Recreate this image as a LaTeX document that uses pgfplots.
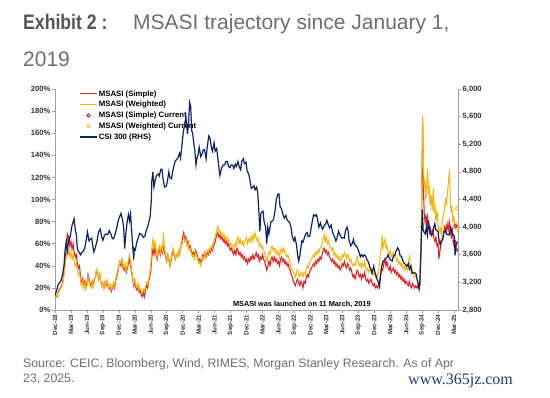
\documentclass[border=0pt]{standalone}
\usepackage{pgfplots}
\pgfplotsset{compat=1.18}
\usepackage{pgfplotstable}
\usepackage{fontspec}
\setmainfont{Liberation Sans}
\newfontfamily\wmfont{Liberation Serif}
\definecolor{msred}{HTML}{E3201F}
\definecolor{msyel}{HTML}{F6B50A}
\definecolor{msnavy}{HTML}{0D2466}
\definecolor{msdred}{HTML}{B8232A}
\definecolor{axgray}{HTML}{A0A0A0}
\definecolor{tgray}{HTML}{555555}
\definecolor{tlab}{HTML}{333333}
\definecolor{wmblue}{HTML}{1C3E72}

\pgfplotstableread{
x y
0.0 10
0.2 13
0.4 12
0.6 16
0.8 18
1.0 20
1.2 22
1.4 24
1.6 30
1.8 40
2.0 50
2.2 62
2.35 70
2.5 60
2.6 68
2.8 58
3.0 62
3.2 55
3.4 60
3.6 52
3.8 48
4.0 50
4.2 42
4.4 38
4.6 40
4.8 30
5.0 24
5.2 28
5.4 22
5.6 26
5.8 20
6.0 24
6.2 32
6.4 28
6.6 24
6.8 21
7.0 26
7.2 22
7.4 28
7.6 30
7.8 36
8.0 33
8.2 28
8.4 32
8.6 26
8.8 22
9.0 24
9.2 20
9.4 25
9.6 22
9.8 26
10.0 21
10.2 19
10.4 22
10.6 17
10.8 20
11.0 24
11.2 20
11.4 26
11.6 30
11.8 34
12.0 40
12.2 44
12.4 40
12.6 45
12.8 38
13.0 36
13.2 40
13.4 34
13.6 38
13.8 42
14.0 46
14.2 40
14.4 34
14.6 28
14.8 22
15.0 26
15.2 20
15.4 18
15.6 22
15.8 16
16.0 18
16.2 14
16.4 12
16.6 16
16.8 12
17.0 18
17.2 22
17.4 20
17.6 26
17.8 30
18.0 35
18.2 48
18.4 55
18.6 50
18.8 58
19.0 50
19.2 46
19.4 52
19.6 55
19.8 50
20.0 56
20.2 52
20.4 58
20.6 52
20.8 48
21.0 44
21.2 50
21.4 46
21.6 40
21.8 44
22.0 50
22.2 54
22.4 50
22.6 46
22.8 50
23.0 48
23.2 52
23.4 50
23.6 56
23.8 60
24.0 66
24.2 70
24.4 64
24.6 66
24.8 60
25.0 62
25.2 56
25.4 58
25.6 54
25.8 50
26.0 52
26.2 48
26.4 54
26.6 52
26.8 48
27.0 44
27.2 46
27.4 42
27.6 46
27.8 50
28.0 48
28.2 52
28.4 48
28.6 52
28.8 50
29.0 54
29.2 52
29.4 56
29.6 54
29.8 58
30.0 60
30.2 64
30.4 68
30.6 70
30.8 66
31.0 68
31.2 64
31.4 66
31.6 62
31.8 64
32.0 60
32.2 62
32.4 58
32.6 60
32.8 56
33.0 54
33.2 56
33.4 52
33.6 50
33.8 54
34.0 50
34.2 56
34.4 54
34.6 50
34.8 52
35.0 48
35.2 50
35.4 46
35.6 48
35.8 44
36.0 46
36.2 42
36.4 46
36.6 44
36.8 48
37.0 46
37.2 50
37.4 46
37.6 48
37.8 52
38.0 48
38.2 50
38.4 44
38.6 48
38.8 46
39.0 50
39.2 46
39.4 44
39.6 40
39.8 36
40.0 40
40.2 44
40.4 40
40.6 46
40.8 48
41.0 44
41.2 48
41.4 44
41.6 46
41.8 42
42.0 44
42.2 40
42.4 46
42.6 48
42.8 44
43.0 46
43.2 42
43.4 44
43.6 40
43.8 42
44.0 38
44.2 36
44.4 32
44.6 30
44.8 26
45.0 24
45.2 22
45.4 26
45.6 28
45.8 24
46.0 22
46.2 26
46.4 24
46.6 20
46.8 26
47.0 24
47.2 28
47.4 32
47.6 30
47.8 34
48.0 36
48.2 38
48.4 40
48.6 42
48.8 40
49.0 44
49.2 42
49.4 46
49.6 44
49.8 48
50.0 46
50.2 50
50.4 54
50.6 56
50.8 52
51.0 54
51.2 50
51.4 52
51.6 48
51.8 46
52.0 44
52.2 46
52.4 42
52.6 44
52.8 40
53.0 42
53.2 38
53.4 40
53.6 36
53.8 38
54.0 42
54.2 40
54.4 44
54.6 40
54.8 38
55.0 42
55.2 40
55.4 36
55.6 38
55.8 34
56.0 30
56.2 32
56.4 28
56.6 32
56.8 36
57.0 34
57.2 30
57.4 32
57.6 28
57.8 32
58.0 30
58.2 34
58.4 28
58.6 26
58.8 28
59.0 24
59.2 26
59.4 28
59.6 24
59.8 22
60.0 24
60.2 20
60.4 22
60.6 20
60.8 22
61.0 26
61.2 32
61.4 38
61.6 36
61.8 42
62.0 46
62.2 40
62.4 44
62.6 38
62.8 36
63.0 40
63.2 34
63.4 36
63.6 38
63.8 34
64.0 36
64.2 32
64.4 34
64.6 30
64.8 32
65.0 28
65.2 30
65.4 26
65.6 28
65.8 24
66.0 26
66.2 24
66.4 22
66.6 26
66.8 22
67.0 20
67.2 24
67.4 22
67.6 20
67.8 22
68.0 20
68.2 22
68.4 19
68.6 22
68.85 60
69.1 174
69.25 110
69.4 88
69.55 80
69.7 86
69.85 76
70.0 84
70.2 76
70.4 70
70.6 74
70.8 68
71.0 72
71.2 66
71.4 62
71.6 66
71.8 58
72.0 60
72.15 46
72.3 52
72.5 58
72.7 62
72.9 66
73.1 72
73.3 76
73.5 70
73.7 78
73.9 72
74.1 80
74.3 70
74.5 66
74.7 72
74.9 60
75.1 56
75.3 52
75.5 56
75.75 53
}\simpletab

\pgfplotstableread{
x y
0.0 10
0.2 12
0.4 13
0.6 15
0.8 17
1.0 19
1.2 21
1.4 23
1.6 28
1.8 36
2.0 44
2.2 52
2.35 58
2.5 50
2.6 56
2.8 48
3.0 52
3.2 46
3.4 50
3.6 44
3.8 40
4.0 42
4.2 36
4.4 32
4.6 34
4.8 26
5.0 22
5.2 26
5.4 20
5.6 24
5.8 19
6.0 22
6.2 30
6.4 26
6.6 22
6.8 20
7.0 25
7.2 21
7.4 27
7.6 30
7.8 37
8.0 34
8.2 28
8.4 33
8.6 26
8.8 21
9.0 24
9.2 20
9.4 26
9.6 23
9.8 27
10.0 22
10.2 20
10.4 23
10.6 19
10.8 21
11.0 25
11.2 22
11.4 28
11.6 32
11.8 36
12.0 40
12.2 44
12.4 42
12.6 46
12.8 40
13.0 38
13.2 42
13.4 36
13.6 40
13.8 46
14.0 50
14.2 44
14.4 36
14.6 30
14.8 24
15.0 28
15.2 22
15.4 20
15.6 24
15.8 18
16.0 20
16.2 17
16.4 16
16.6 19
16.8 17
17.0 21
17.2 25
17.4 23
17.6 28
17.8 33
18.0 40
18.2 56
18.4 64
18.6 56
18.8 62
19.0 54
19.2 48
19.4 54
19.6 58
19.8 52
20.0 58
20.2 54
20.4 70
20.5 60
20.6 54
20.8 50
21.0 44
21.2 50
21.4 46
21.6 40
21.8 46
22.0 52
22.2 56
22.4 50
22.6 46
22.8 50
23.0 48
23.2 54
23.4 50
23.6 56
23.8 58
24.0 62
24.2 66
24.4 62
24.6 64
24.8 58
25.0 60
25.2 54
25.4 56
25.6 52
25.8 48
26.0 50
26.2 46
26.4 52
26.6 50
26.8 46
27.0 42
27.2 44
27.4 40
27.6 44
27.8 48
28.0 46
28.2 52
28.4 50
28.6 54
28.8 52
29.0 56
29.2 54
29.4 58
29.6 56
29.8 62
30.0 64
30.2 68
30.4 72
30.6 76
30.8 70
31.0 72
31.2 68
31.4 70
31.6 66
31.8 68
32.0 64
32.2 66
32.4 62
32.6 64
32.8 60
33.0 58
33.2 60
33.4 58
33.6 56
33.8 60
34.0 58
34.2 64
34.4 66
34.6 60
34.8 64
35.0 60
35.2 62
35.4 58
35.6 60
35.8 64
36.0 66
36.2 60
36.4 64
36.6 62
36.8 66
37.0 62
37.2 68
37.4 64
37.6 70
37.8 66
38.0 62
38.2 64
38.4 58
38.6 60
38.8 56
39.0 58
39.2 54
39.4 52
39.6 48
39.8 44
40.0 48
40.2 52
40.4 50
40.6 56
40.8 58
41.0 54
41.2 56
41.4 52
41.6 54
41.8 50
42.0 52
42.2 48
42.4 54
42.6 56
42.8 52
43.0 56
43.2 52
43.4 50
43.6 48
43.8 50
44.0 46
44.2 42
44.4 38
44.6 36
44.8 34
45.0 32
45.2 30
45.4 34
45.6 36
45.8 32
46.0 30
46.2 34
46.4 32
46.6 30
46.8 34
47.0 32
47.2 36
47.4 40
47.6 38
47.8 42
48.0 44
48.2 46
48.4 48
48.6 50
48.8 48
49.0 52
49.2 50
49.4 54
49.6 52
49.8 56
50.0 56
50.2 60
50.4 64
50.6 68
50.8 62
51.0 66
51.2 60
51.4 62
51.6 58
51.8 56
52.0 54
52.2 56
52.4 50
52.6 52
52.8 48
53.0 50
53.2 46
53.4 48
53.6 44
53.8 46
54.0 50
54.2 48
54.4 52
54.6 50
54.8 46
55.0 50
55.2 48
55.4 44
55.6 46
55.8 42
56.0 40
56.2 42
56.4 40
56.6 44
56.8 48
57.0 44
57.2 40
57.4 42
57.6 38
57.8 42
58.0 40
58.2 44
58.4 38
58.6 36
58.8 38
59.0 34
59.2 36
59.4 38
59.6 34
59.8 32
60.0 34
60.2 30
60.4 32
60.6 30
60.8 34
61.0 42
61.2 52
61.4 60
61.5 68
61.6 56
61.8 60
62.0 64
62.2 56
62.4 58
62.6 52
62.8 50
63.0 54
63.2 48
63.4 50
63.6 52
63.8 48
64.0 50
64.2 44
64.4 46
64.6 42
64.8 44
65.0 40
65.2 42
65.4 38
65.6 40
65.8 36
66.0 38
66.2 36
66.4 40
66.6 48
66.8 38
67.0 34
67.2 36
67.4 32
67.6 30
67.8 32
68.0 28
68.2 26
68.4 22
68.6 26
68.85 80
69.1 176
69.25 130
69.4 110
69.55 118
69.7 100
69.85 112
70.05 128
70.2 104
70.35 112
70.5 94
70.7 104
70.9 90
71.1 110
71.25 88
71.4 96
71.6 80
71.8 90
72.0 78
72.2 70
72.4 74
72.6 68
72.8 80
73.0 86
73.2 92
73.4 100
73.6 96
73.8 108
74.0 118
74.15 127
74.3 100
74.45 88
74.6 94
74.8 80
75.0 84
75.2 74
75.4 78
75.6 72
75.75 70
}\weightedtab

\pgfplotstableread{
x y
0.0 3010
0.3 3080
0.6 3170
0.9 3200
1.1 3220
1.4 3300
1.7 3450
1.9 3670
2.1 3790
2.3 3650
2.5 3770
2.7 3830
2.9 3870
3.1 3990
3.3 4050
3.6 4120
3.8 3960
4.0 3900
4.2 3690
4.4 3650
4.6 3630
4.8 3600
5.0 3630
5.3 3650
5.6 3700
5.9 3830
6.1 3930
6.4 3800
6.7 3830
6.9 3840
7.1 3730
7.3 3640
7.6 3710
7.9 3800
8.2 3930
8.5 3970
8.8 3850
9.0 3810
9.3 3880
9.6 3900
9.9 3890
10.2 3950
10.5 3900
10.8 3830
11.0 3830
11.3 3900
11.6 3990
11.9 4100
12.1 4140
12.4 4200
12.7 4100
12.9 4000
13.1 3690
13.3 3900
13.6 4100
13.8 4180
14.0 4090
14.2 4190
14.4 3960
14.6 3720
14.8 3530
14.9 3690
15.1 3670
15.4 3790
15.6 3830
15.9 3910
16.1 3900
16.4 3880
16.6 3850
16.9 3870
17.1 3940
17.4 4000
17.6 4060
17.9 4160
18.1 4380
18.2 4670
18.4 4800
18.6 4580
18.9 4700
19.1 4750
19.4 4770
19.6 4740
19.9 4840
20.1 4840
20.3 4700
20.6 4580
20.9 4590
21.1 4650
21.4 4800
21.6 4720
21.9 4700
22.1 4800
22.4 4900
22.6 4960
22.9 4980
23.1 5000
23.4 5070
23.6 5000
23.9 5211
24.1 5370
24.4 5500
24.6 5600
24.9 5350
25.1 5500
25.3 5807
25.5 5750
25.7 5400
25.9 5340
26.1 5200
26.3 5100
26.5 4900
26.7 5000
26.9 5050
27.1 5160
27.4 5020
27.6 5050
27.9 5120
28.1 5120
28.4 4990
28.6 5150
28.9 5320
29.1 5300
29.4 5150
29.6 5100
29.9 5220
30.1 5100
30.4 5140
30.6 5000
30.9 4810
31.0 4750
31.3 4850
31.6 4900
31.9 4900
32.1 4950
32.4 4950
32.6 4880
32.9 4860
33.1 4900
33.4 4900
33.6 4850
33.9 4910
34.1 4880
34.4 4950
34.6 4880
34.9 4830
35.1 4950
35.4 4990
35.6 4920
35.9 4940
36.1 4820
36.4 4770
36.6 4700
36.9 4560
37.1 4570
37.4 4600
37.6 4540
37.9 4580
38.1 4500
38.3 4260
38.5 3940
38.7 4200
38.9 4220
39.1 4230
39.3 4080
39.6 3990
39.8 3760
40.0 4000
40.2 3900
40.4 3990
40.6 4080
40.9 4090
41.1 4120
41.4 4260
41.6 4400
41.9 4480
42.1 4480
42.3 4300
42.6 4260
42.9 4170
43.1 4130
43.4 4170
43.6 4110
43.9 4080
44.1 4070
44.4 3980
44.6 3860
44.9 3800
45.1 3850
45.4 3740
45.6 3600
45.8 3510
46.0 3570
46.2 3690
46.4 3800
46.6 3780
46.9 3850
47.1 3900
47.4 3920
47.6 3860
47.9 3870
48.1 3970
48.4 4100
48.6 4180
48.9 4160
49.1 4180
49.3 4140
49.6 4000
49.9 4060
50.1 4000
50.3 3970
50.6 4020
50.9 4050
51.1 4100
51.3 4050
51.6 3990
51.9 4030
52.1 3950
52.3 3900
52.6 3850
52.8 3800
53.0 3840
53.3 3940
53.6 3880
53.9 3840
54.1 3850
54.4 3840
54.6 3950
54.9 4000
55.1 3940
55.3 3800
55.6 3730
55.9 3765
56.1 3820
56.3 3750
56.6 3730
56.9 3690
57.1 3650
57.4 3570
57.6 3600
57.9 3570
58.1 3600
58.4 3580
58.6 3530
58.9 3496
59.1 3440
59.3 3400
59.6 3330
59.9 3431
60.1 3360
60.3 3300
60.5 3250
60.8 3200
61.0 3140
61.2 3300
61.4 3430
61.6 3500
61.9 3520
62.1 3540
62.4 3560
62.6 3600
62.9 3540
63.1 3520
63.4 3510
63.6 3580
63.9 3600
64.1 3650
64.4 3700
64.6 3680
64.9 3580
65.1 3580
65.4 3510
65.6 3480
65.9 3460
66.1 3430
66.4 3470
66.6 3390
66.9 3440
67.1 3330
67.4 3340
67.6 3340
67.9 3320
68.1 3230
68.3 3160
68.45 3108
68.6 3250
68.8 3700
68.95 4017
69.05 4256
69.2 3960
69.4 3920
69.6 3900
69.8 4000
70.0 3890
70.2 4100
70.4 3970
70.6 3900
70.8 3880
71.0 3900
71.2 4000
71.4 4050
71.6 3960
71.8 3950
72.0 3935
72.2 3800
72.4 3750
72.6 3810
72.9 3817
73.1 3920
73.4 3950
73.6 3900
73.9 3890
74.1 3890
74.4 4000
74.6 3920
74.9 3887
75.1 3860
75.2 3590
75.35 3720
75.5 3770
75.75 3780
}\csitab

\begin{document}
\begin{tikzpicture}
\path[use as bounding box] (0,0) rectangle (550pt,398pt);
% titles
\node[anchor=base west, inner sep=0, text=tgray] at (23pt,368pt) {\scalebox{0.84}[1]{\fontsize{21}{25}\selectfont\bfseries Exhibit 2 :}};
\node[anchor=base west, inner sep=0, text=tgray!85] at (133pt,368pt) {\fontsize{21}{25}\selectfont MSASI trajectory since January 1,};
\node[anchor=base west, inner sep=0, text=tgray!85] at (23pt,331pt) {\fontsize{21}{25}\selectfont 2019};
\node[anchor=base west, inner sep=0, text=tgray!85] at (23pt,30pt) {\fontsize{12.3}{15}\selectfont Source: CEIC, Bloomberg, Wind, RIMES, Morgan Stanley Research. As of Apr};
\node[anchor=base west, inner sep=0, text=tgray!85] at (23pt,15pt) {\fontsize{12.3}{15}\selectfont 23, 2025.};
\node[anchor=base west, inner sep=0, text=wmblue] at (408pt,13pt) {\wmfont\fontsize{16}{18}\selectfont www.365jz.com};

\begin{axis}[
  at={(55pt,88pt)}, anchor=south west,
  scale only axis, width=403pt, height=221pt,
  xmin=0, xmax=75.75, ymin=0, ymax=200,
  axis y line*=left, axis x line*=bottom,
  axis line style={axgray, line width=0.6pt},
  tick align=outside, major tick length=3pt,
  tick style={axgray, line width=0.5pt},
  xtick={0,3,...,75},
  xticklabels={Dec-18,Mar-19,Jun-19,Sep-19,Dec-19,Mar-20,Jun-20,Sep-20,Dec-20,Mar-21,Jun-21,Sep-21,Dec-21,Mar-22,Jun-22,Sep-22,Dec-22,Mar-23,Jun-23,Sep-23,Dec-23,Mar-24,Jun-24,Sep-24,Dec-24,Mar-25},
  xticklabel style={rotate=90, anchor=east, font=\fontsize{6.2}{7}\selectfont\bfseries, text=tlab, inner sep=1.5pt},
  ytick={0,20,...,200},
  yticklabels={0\%,20\%,40\%,60\%,80\%,100\%,120\%,140\%,160\%,180\%,200\%},
  yticklabel style={font=\fontsize{7.6}{9}\selectfont\bfseries, text=tlab, inner sep=1.5pt},
  /pgf/number format/assume math mode=true,
  legend style={at={(0.06,1.0)}, anchor=north west, draw=none, fill=none,
    font=\fontsize{7.8}{9}\selectfont\bfseries, inner sep=0pt,
    row sep=1.2pt, nodes={inner sep=1.2pt}},
  legend cell align=left,
]
\addplot[draw=msred, line width=1.05pt] table[x=x,y=y] {\simpletab};
\addlegendentry{MSASI (Simple)}
\addplot[draw=msyel, line width=1.05pt] table[x=x,y=y] {\weightedtab};
\addlegendentry{MSASI (Weighted)}
\addplot[only marks, mark=o, mark size=1.8pt, msdred, line width=0.9pt] coordinates {(75.3,76) (75.1,62)};
\addlegendentry{MSASI (Simple) Current}
\addplot[only marks, mark=o, mark size=1.8pt, msyel!80!white, line width=0.9pt] coordinates {(75.5,92)};
\addlegendentry{MSASI (Weighted) Current}
\addlegendimage{draw=msnavy, line width=1.2pt}
\addlegendentry{CSI 300 (RHS)}
\node[anchor=west, inner sep=1pt, text=msyel, font=\fontsize{7.5}{9}\selectfont] at (axis cs:75.75,92) {70\%};
\node[anchor=west, inner sep=1pt, text=msred, font=\fontsize{7.5}{9}\selectfont] at (axis cs:75.75,62) {51\%};
\node[anchor=center, inner sep=0, text=black, font=\fontsize{7.3}{8.5}\selectfont\bfseries] at (axis cs:46.4,4.6) {MSASI was launched on 11 March, 2019};
\end{axis}

\begin{axis}[
  at={(55pt,88pt)}, anchor=south west,
  scale only axis, width=403pt, height=221pt,
  xmin=0, xmax=75.75, ymin=2800, ymax=6000,
  axis x line=none, axis y line*=right,
  axis line style={axgray, line width=0.6pt},
  tick align=outside, major tick length=3pt,
  tick style={axgray, line width=0.5pt},
  ytick={2800,3200,...,6000},
  yticklabels={{2,800},{3,200},{3,600},{4,000},{4,400},{4,800},{5,200},{5,600},{6,000}},
  yticklabel style={font=\fontsize{7.6}{9}\selectfont\bfseries, text=tlab, inner sep=1.5pt},
  /pgf/number format/assume math mode=true,
]
\addplot[draw=msnavy, line width=1.2pt] table[x=x,y=y] {\csitab};
\end{axis}
\end{tikzpicture}
\end{document}
